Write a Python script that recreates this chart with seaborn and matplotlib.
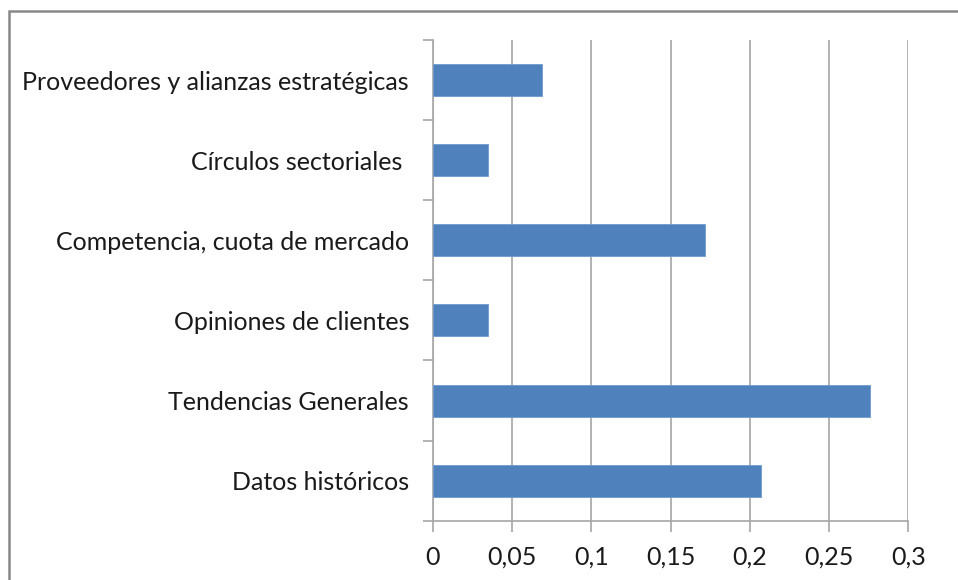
import numpy as np
import pandas as pd
import matplotlib
matplotlib.use("Agg")
import matplotlib.pyplot as plt
import seaborn as sns
from matplotlib.ticker import FixedLocator, FuncFormatter
from matplotlib.patches import Rectangle

# data (top to bottom as shown)
categorias = ["Proveedores y alianzas estratégicas", "Círculos sectoriales ",
              "Competencia, cuota de mercado", "Opiniones de clientes",
              "Tendencias Generales", "Datos históricos"]
valores = [0.069, 0.035, 0.172, 0.035, 0.276, 0.207]
xticks = [0, 0.05, 0.1, 0.15, 0.2, 0.25, 0.3]

df = pd.DataFrame({"cat": categorias, "val": valores})

sns.set_style("white")
plt.rcParams['font.family'] = ['Lato', 'DejaVu Sans']

fig = plt.figure(figsize=(9.58, 5.8), dpi=100)
ax = fig.add_axes([0.4517, 0.1022, 0.4964, 0.8288])

sns.barplot(data=df, y="cat", x="val", order=categorias, orient="h",
            color="#4F81BD", saturation=1, width=0.4, ax=ax,
            edgecolor="#6F9AD0", linewidth=0.6, zorder=3)

ax.set_xlim(0, 0.3)
ax.set_ylim(len(categorias) - 0.5, -0.5)
ax.set_xticks(xticks)
ax.xaxis.set_major_formatter(FuncFormatter(lambda v, p: ("%g" % v).replace(".", ",")))
ax.grid(axis="x", color="#A6A6A6", linewidth=1.2, zorder=0)
ax.set_axisbelow(True)

# y ticks between categories, labels at centre
ax.yaxis.set_major_locator(FixedLocator(np.arange(-0.5, len(categorias), 1)))
ax.yaxis.set_major_formatter(FuncFormatter(lambda v, p: ""))
ax.yaxis.set_minor_locator(FixedLocator(np.arange(len(categorias))))
ax.set_yticklabels(categorias, minor=True)
ax.tick_params(axis="y", which="major", length=7, width=1.2, color="#A6A6A6", direction="out", left=True)
ax.tick_params(axis="y", which="minor", length=0, pad=17, labelsize=18, labelcolor="#1a1a1a")
ax.tick_params(axis="x", length=8, width=1.2, color="#A6A6A6", direction="out", bottom=True,
               labelsize=18, labelcolor="#1a1a1a", pad=10)

for s in ["top", "right"]:
    ax.spines[s].set_visible(False)
for s in ["left", "bottom"]:
    ax.spines[s].set_color("#A6A6A6")
    ax.spines[s].set_linewidth(1.2)

ax.set_xlabel("")
ax.set_ylabel("")

# chart area border (only top and left edges fall inside the image)
fig.patches.append(Rectangle((9 / 958, -0.5), 2, 1.5 - 11 / 580, transform=fig.transFigure,
                             fill=False, edgecolor="#888888", linewidth=1.8))

fig.savefig("out.png", dpi=100)
